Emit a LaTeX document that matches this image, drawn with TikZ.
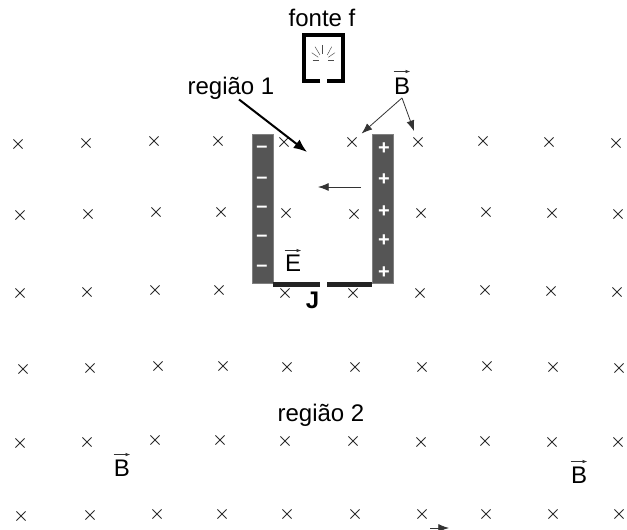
\documentclass[tikz,border=0pt]{standalone}
\usepackage{fontspec}
\setmainfont{Liberation Sans}
\usetikzlibrary{shapes.misc,arrows.meta}
\definecolor{plategray}{RGB}{85,85,85}
\definecolor{barblack}{RGB}{35,35,35}
\definecolor{crossgray}{RGB}{45,45,45}
\tikzset{
	fieldcross/.style={cross out,draw=crossgray,line width=0.7pt,minimum size=6.2pt,inner sep=0pt},
	bigtext/.style={font=\fontsize{18}{20}\selectfont,inner sep=0pt},
	plate/.style={fill=plategray,draw=gray,line width=0.3pt,minimum width=15.75pt,minimum height=111.75pt,inner sep=0pt},
	sign/.style={text=white,font=\fontsize{15}{16}\selectfont\bfseries,inner sep=0pt},
	slit/.style={fill=barblack,draw=none,minimum height=3.6pt,inner sep=0pt},
	thinarrow/.style={-{Latex[length=8pt,width=6pt]},line width=0.6pt,draw=black!80},
	fatarrow/.style={-{Latex[length=10pt,width=8pt]},line width=1.5pt},
	vecmark/.style={-{Latex[length=3.5pt,width=2.6pt]},line width=0.5pt,draw=black!80}
}
\begin{document}
\begin{tikzpicture}[x=0.75pt,y=-0.75pt]
		%%%%% START %%%%%
		\useasboundingbox (0,0) rectangle (627,530);
		\clip (0,0) rectangle (627,530);
		
		% field crosses
		\foreach \r/\row in {
			1/{18/144,86/143,154/141,218/141,284/142,352/142,418/142,483/141,549/142,616/143},
			2/{20/215,88/214,156/212,221/212,286/213,354/214,421/213,486/212,552/213,618/214},
			3/{20/293,87/292,155/290,219/290,285/293,353/293,420/293,485/290,551/291,617/292},
			4/{23/369,90/368,158/366,223/366,287/367,355/367,422/367,487/366,553/367,619/368},
			5/{20/443,87/442,155/440,220/440,285/441,353/441,421/442,485/441,552/442,618/442},
			6/{21/516,90/515,157/514,222/514,287/514,355/514,422/514,486/514,553/514,619/514}}
			\foreach \x/\y [count=\i] in \row
				\node[fieldcross] (c\r-\i) at (\x,\y) {};
		
		% source
		\node[bigtext] (fonte) at (322,18) {fonte f};
		\draw[line width=2.6pt] (320,81) -- (304,81) -- (304,35) -- (343,35) -- (343,81) -- (327,81);
		\draw[line width=0.35pt,draw=black!70] (312.7,60) -- (318.7,60);
		\draw[line width=0.35pt,draw=black!70] (311.7,52.7) -- (318.3,57.3);
		\draw[line width=0.35pt,draw=black!70] (315,46.7) -- (320,55);
		\draw[line width=0.35pt,draw=black!70] (322.7,45) -- (322.7,54);
		\draw[line width=0.35pt,draw=black!70] (331.7,46.7) -- (327.3,55);
		\draw[line width=0.35pt,draw=black!70] (335,52.7) -- (328.3,57.3);
		\draw[line width=0.35pt,draw=black!70] (328.3,60) -- (334.3,60);
		
		% plates
		\node[plate] (plateL) at (262.5,208.5) {};
		\node[plate] (plateR) at (382.5,208.5) {};
		\foreach \y in {149,180,209,238,268}
			\node[sign] at (262,\y) {–};
		\foreach \y in {149,180,212,241,273}
			\node[sign] at (384,\y) {+};
		\node[slit,minimum width=35.25pt] (slitL) at (296.5,284.5) {};
		\node[slit,minimum width=33.75pt] (slitR) at (349.5,284.5) {};
		\node[bigtext,font=\fontsize{18}{20}\selectfont\bfseries] (J) at (312.5,300) {J};
		
		% labels
		\node[bigtext] (reg1) at (231,88) {região 1};
		\node[bigtext] (reg2) at (321,415) {região 2};
		\node[bigtext,anchor=base] (vecE) at (293,272) {E};
		\node[bigtext,anchor=base] (vecBtop) at (402,95) {B};
		\node[bigtext,anchor=base] (vecBleft) at (122,476) {B};
		\node[bigtext,anchor=base] (vecBright) at (579,483) {B};
		\foreach \n in {vecE,vecBleft,vecBright}
			\draw[vecmark] ([yshift=3.5pt]\n.north west) -- ([yshift=3.5pt]\n.north east);
		\draw[vecmark] ([yshift=5pt]vecBtop.north west) -- ([yshift=5pt]vecBtop.north east);
		
		% arrows
		\coordinate (regtip) at (307,152);
		\draw[fatarrow] ([xshift=6pt]reg1.south) -- (regtip);
		\draw[thinarrow,shorten >=5pt] ([yshift=-2pt]vecBtop.south) -- (c1-6);
		\draw[thinarrow,shorten >=5pt] ([yshift=-2pt]vecBtop.south) -- (c1-7);
		\coordinate (efrom) at (361,187);
		\coordinate (eto) at (318,187);
		\draw[thinarrow] (efrom) -- (eto);
		\coordinate (cutfrom) at (430,528);
		\coordinate (cutto) at (449,528);
		\draw[thinarrow] (cutfrom) -- (cutto);
		
		%%%%% END %%%%%
	\end{tikzpicture}
\end{document}
